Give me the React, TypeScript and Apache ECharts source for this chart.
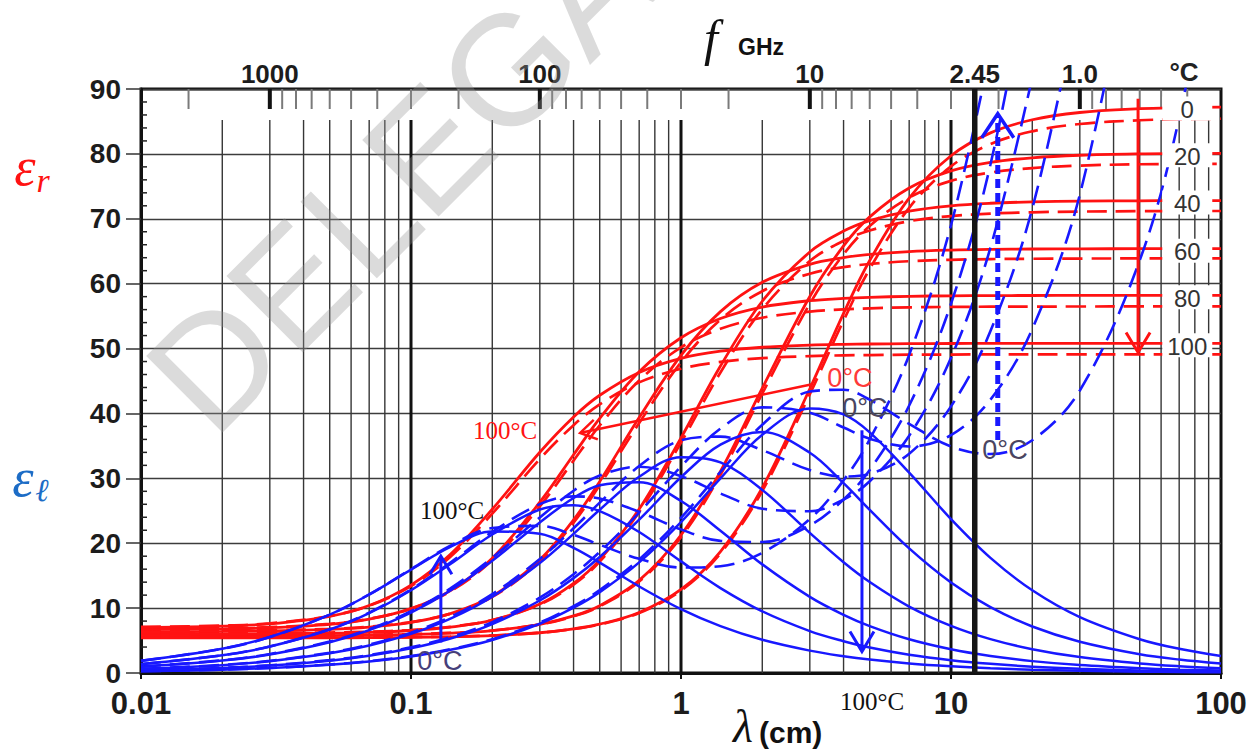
import React, { useEffect, useRef } from 'react';
import * as echarts from 'echarts';

// ---------- data ----------
// wavelength samples, cm
const wavelengths = [0.01, 0.02, 0.03, 0.05, 0.07, 0.1, 0.14, 0.2, 0.3, 0.4, 0.5, 0.7, 1, 1.4, 2, 3, 4, 5, 7, 10, 14, 20, 30, 50, 70, 100];
const temperatures = ['0', '20', '40', '60', '80', '100'];

// relative permittivity, pure water (solid red)
const erSolid0 = [5.4, 5.4, 5.41, 5.42, 5.44, 5.48, 5.58, 5.76, 6.2, 6.8, 7.52, 9.33, 12.87, 18.72, 28.55, 43.81, 55.42, 63.56, 73.18, 79.71, 83.24, 85.26, 86.38, 86.97, 87.13, 87.22];
const erSolid20 = [5.7, 5.71, 5.72, 5.76, 5.82, 5.93, 6.13, 6.54, 7.5, 8.8, 10.38, 14.28, 21.27, 31.07, 43.89, 58.03, 65.83, 70.29, 74.75, 77.38, 78.69, 79.4, 79.79, 80.0, 80.04, 80.07];
const erSolid40 = [6.0, 6.02, 6.05, 6.14, 6.27, 6.55, 7.07, 8.14, 10.63, 13.8, 17.44, 25.26, 36.23, 47.3, 57.29, 64.89, 68.1, 69.72, 71.19, 72.0, 72.39, 72.6, 72.71, 72.77, 72.79, 72.8];
const erSolid60 = [6.35, 6.41, 6.49, 6.72, 7.08, 7.8, 9.15, 11.83, 17.45, 23.6, 29.53, 39.37, 48.96, 55.69, 60.21, 62.98, 64.01, 64.5, 64.94, 65.17, 65.28, 65.34, 65.37, 65.39, 65.4, 65.4];
const erSolid80 = [6.7, 6.8, 6.97, 7.5, 8.3, 9.92, 12.7, 17.7, 26.32, 33.63, 39.23, 46.41, 51.66, 54.64, 56.4, 57.38, 57.73, 57.9, 58.05, 58.13, 58.16, 58.18, 58.19, 58.2, 58.2, 58.2];
const erSolid100 = [7.0, 7.22, 7.58, 8.74, 10.4, 13.55, 18.3, 25.24, 34.02, 39.46, 42.8, 46.32, 48.49, 49.59, 50.2, 50.53, 50.65, 50.7, 50.75, 50.78, 50.8, 50.8, 50.8, 50.8, 50.8, 50.8];

// relative permittivity, saline water (dashed red)
const erDashed0 = [5.45, 5.45, 5.46, 5.47, 5.49, 5.53, 5.62, 5.78, 6.2, 6.78, 7.48, 9.25, 12.71, 18.43, 28.05, 42.97, 54.32, 62.28, 71.69, 78.08, 81.52, 83.48, 84.61, 85.18, 85.34, 85.42];
const erDashed20 = [5.8, 5.81, 5.82, 5.85, 5.9, 6.0, 6.17, 6.55, 7.48, 8.74, 10.28, 14.1, 20.94, 30.53, 43.07, 56.91, 64.54, 68.9, 73.27, 75.84, 77.12, 77.82, 78.2, 78.4, 78.44, 78.47];
const erDashed40 = [6.1, 6.12, 6.15, 6.24, 6.36, 6.63, 7.12, 8.15, 10.55, 13.61, 17.17, 24.8, 35.5, 46.31, 56.06, 63.48, 66.61, 68.19, 69.63, 70.42, 70.8, 71.0, 71.11, 71.17, 71.19, 71.2];
const erDashed60 = [6.45, 6.51, 6.59, 6.8, 7.15, 7.85, 9.15, 11.72, 17.18, 23.16, 28.94, 38.53, 47.88, 54.44, 58.84, 61.54, 62.55, 63.03, 63.46, 63.68, 63.79, 63.84, 63.87, 63.89, 63.9, 63.9];
const erDashed80 = [6.8, 6.9, 7.06, 7.58, 8.35, 9.92, 12.6, 17.4, 25.68, 32.73, 38.15, 45.09, 50.17, 53.05, 54.75, 55.7, 56.04, 56.2, 56.35, 56.42, 56.45, 56.47, 56.48, 56.49, 56.49, 56.49];
const erDashed100 = [7.1, 7.31, 7.66, 8.78, 10.36, 13.38, 17.92, 24.56, 32.98, 38.19, 41.41, 44.79, 46.88, 47.94, 48.52, 48.84, 48.95, 49.0, 49.05, 49.08, 49.1, 49.1, 49.1, 49.1, 49.1, 49.1];

// loss factor, pure water (solid blue)
const elSolid0 = [0.26, 0.51, 0.77, 1.28, 1.79, 2.55, 3.57, 5.09, 7.59, 10.06, 12.46, 17.05, 23.26, 30.0, 36.72, 40.76, 39.85, 37.09, 30.88, 23.72, 17.75, 12.75, 8.62, 5.21, 3.73, 2.61];
const elSolid20 = [0.38, 0.76, 1.14, 1.9, 2.66, 3.8, 5.31, 7.54, 11.17, 14.62, 17.88, 23.63, 30.17, 35.2, 37.14, 33.95, 29.26, 25.15, 19.21, 13.96, 10.15, 7.17, 4.82, 2.89, 2.07, 1.45];
const elSolid40 = [0.61, 1.21, 1.82, 3.03, 4.23, 6.02, 8.37, 11.76, 16.96, 21.45, 25.16, 30.25, 33.25, 32.45, 28.21, 21.59, 17.08, 14.02, 10.24, 7.26, 5.22, 3.67, 2.45, 1.47, 1.05, 0.74];
const elSolid60 = [0.96, 1.91, 2.86, 4.74, 6.6, 9.31, 12.72, 17.3, 23.21, 26.97, 28.93, 29.38, 26.51, 21.92, 16.74, 11.73, 8.96, 7.23, 5.2, 3.66, 2.62, 1.83, 1.22, 0.73, 0.52, 0.37];
const elSolid80 = [1.36, 2.72, 4.07, 6.7, 9.23, 12.75, 16.8, 21.35, 25.2, 25.87, 24.95, 21.72, 17.2, 13.09, 9.5, 6.46, 4.9, 3.92, 2.81, 1.97, 1.41, 0.98, 0.66, 0.39, 0.28, 0.2];
const elSolid100 = [1.88, 3.74, 5.55, 9.0, 12.09, 15.93, 19.44, 21.82, 21.46, 19.3, 17.02, 13.34, 9.84, 7.22, 5.12, 3.45, 2.59, 2.07, 1.48, 1.04, 0.74, 0.52, 0.35, 0.21, 0.15, 0.1];

// loss factor, saline water (dashed blue)
const elDashed0 = [0.26, 0.52, 0.78, 1.31, 1.83, 2.61, 3.66, 5.21, 7.77, 10.31, 12.77, 17.49, 23.92, 30.98, 38.25, 43.37, 43.65, 42.12, 38.39, 34.9, 33.74, 35.87, 43.53, 63.6, 85.55, 119.6];
const elDashed20 = [0.4, 0.79, 1.19, 1.98, 2.77, 3.95, 5.52, 7.84, 11.62, 15.23, 18.65, 24.73, 31.82, 37.66, 40.94, 40.12, 37.83, 36.11, 34.9, 36.66, 42.13, 53.02, 73.72, 117.8];
const elDashed40 = [0.63, 1.25, 1.88, 3.13, 4.37, 6.22, 8.65, 12.16, 17.57, 22.3, 26.26, 31.9, 35.85, 36.43, 34.33, 31.27, 30.27, 30.68, 33.79, 41.09, 52.69, 71.58, 104.4];
const elDashed60 = [0.98, 1.95, 2.92, 4.85, 6.75, 9.52, 13.03, 17.76, 23.97, 28.09, 30.45, 31.79, 30.34, 27.67, 25.32, 24.93, 26.73, 29.55, 36.57, 48.57, 65.55, 91.78];
const elDashed80 = [1.37, 2.74, 4.1, 6.75, 9.31, 12.88, 17.02, 21.74, 26.02, 27.22, 26.88, 24.85, 22.13, 20.36, 20.19, 22.75, 26.74, 31.29, 41.22, 56.9, 78.36, 110.95];
const elDashed100 = [1.87, 3.73, 5.54, 8.99, 12.1, 16.0, 19.64, 22.34, 22.67, 21.28, 19.76, 17.59, 16.26, 16.46, 18.52, 23.72, 29.69, 35.99, 49.02, 69.0, 95.9];

// static permittivity plateaus (for the temperature labels at the right)
const plateauValues = [87.3, 80.1, 72.8, 65.4, 58.2, 50.8];
const plateauLabelWavelength = 75;

// grid / ticks
const minorGridX = [0.02, 0.03, 0.04, 0.05, 0.06, 0.07, 0.08, 0.09, 0.2, 0.3, 0.4, 0.5, 0.6, 0.7, 0.8, 0.9, 2, 3, 4, 5, 6, 7, 8, 9, 20, 30, 40, 50, 60, 70, 80, 90];
const decadeGridX = [0.1, 1, 10];
const microwaveFreq = [2.45]; // GHz
const freqMinorTicks = [2000, 900, 800, 700, 600, 500, 400, 300, 200, 90, 80, 70, 60, 50, 40, 30, 20, 9, 8, 7, 6, 5, 4, 3, 2, 0.9, 0.8, 0.7, 0.6, 0.5, 0.4];
const freqMajorTicks = [1000, 100, 10, 1];
const freqLabelValues = [1000, 100, 10, 2.45, 1];
const freqLabelTexts = ['1000', '100', '10', '2.45', '1.0'];
const yMinorTicks = [2, 4, 6, 8, 12, 14, 16, 18, 22, 24, 26, 28, 32, 34, 36, 38, 42, 44, 46, 48, 52, 54, 56, 58, 62, 64, 66, 68, 72, 74, 76, 78, 82, 84, 86, 88];
const LIGHT_SPEED_CM_GHZ = 30; // λ(cm) = 30 / f(GHz)

// annotations (data coordinates: [λ cm, value])
const arrowTails = [[49.3, 88.5], [14.9, 35.9], [0.129, 4.7], [4.68, 37.4], [3.06, 44.5]];
const arrowTips = [[49.3, 49.4], [14.9, 86.2], [0.129, 18.0], [4.68, 3.3], [0.423, 37.0]];
const annotationTexts = ['100°C', '100°C', '100°C', '0°C', '0°C', '0°C', '0°C'];
const annotationPositions = [[0.223, 37.3], [0.142, 25.0], [5.1, -4.4], [4.22, 45.4], [4.8, 40.9], [15.85, 34.4], [0.128, 1.8]];

// ---------- styles ----------
const RED = '#ff1212';
const BLUE = '#1818ff';
const SANS = '"Liberation Sans", Arial, sans-serif';
const SERIF = '"Liberation Serif", "DejaVu Serif", serif';

const arrowStyles = [
  { color: RED, width: 3, dash: null, headLen: 20, headHalf: 12 },
  { color: BLUE, width: 5, dash: [9, 5], headLen: 24, headHalf: 16 },
  { color: BLUE, width: 3, dash: null, headLen: 18, headHalf: 11 },
  { color: BLUE, width: 3, dash: null, headLen: 20, headHalf: 12 },
  { color: RED, width: 2.5, dash: null, headLen: 16, headHalf: 10 },
];
const annotationStyles = [
  { fill: RED, font: `25px ${SERIF}` },
  { fill: '#111', font: `25px ${SERIF}` },
  { fill: '#111', font: `25px ${SERIF}` },
  { fill: '#ff3a3a', font: `27px ${SANS}` },
  { fill: '#4a4560', font: `27px ${SANS}` },
  { fill: '#4a4560', font: `27px ${SANS}` },
  { fill: '#473f7a', font: `27px ${SANS}` },
];

function toPairs(arr: number[]) {
  return arr.map((v, i) => [wavelengths[i], v]);
}

function vLines(values: number[], topOffset: number, color: string, width: number, z: number) {
  return {
    type: 'custom',
    coordinateSystem: 'cartesian2d',
    silent: true,
    z,
    clip: false,
    data: values.map((v) => [v, 45]),
    renderItem: (params: any, api: any) => {
      const cs = params.coordSys;
      const x = api.coord([api.value(0), 45])[0];
      return {
        type: 'line',
        shape: { x1: x, y1: cs.y + topOffset, x2: x, y2: cs.y + cs.height },
        style: { stroke: color, lineWidth: width },
      };
    },
  };
}

function topTicks(freqs: number[], color: string, width: number) {
  return {
    type: 'custom',
    coordinateSystem: 'cartesian2d',
    silent: true,
    z: 2,
    clip: false,
    data: freqs.map((f) => [LIGHT_SPEED_CM_GHZ / f, 45]),
    renderItem: (params: any, api: any) => {
      const cs = params.coordSys;
      const x = api.coord([api.value(0), 45])[0];
      return {
        type: 'line',
        shape: { x1: x, y1: cs.y, x2: x, y2: cs.y + 20 },
        style: { stroke: color, lineWidth: width },
      };
    },
  };
}

function lineSeries(name: string, arr: number[], color: string, width: number, dashed: boolean, z: number) {
  return {
    name,
    type: 'line',
    data: toPairs(arr),
    smooth: 0.35,
    symbol: 'none',
    showSymbol: false,
    silent: true,
    clip: true,
    z,
    lineStyle: { color, width, type: dashed ? [20, 9] : 'solid' },
  };
}

export default function App() {
  const ref = useRef<HTMLDivElement>(null);

  useEffect(() => {
    const chart = echarts.init(ref.current as HTMLDivElement, null, { renderer: 'svg' });

    const erSolid = [erSolid0, erSolid20, erSolid40, erSolid60, erSolid80, erSolid100];
    const erDashed = [erDashed0, erDashed20, erDashed40, erDashed60, erDashed80, erDashed100];
    const elSolid = [elSolid0, elSolid20, elSolid40, elSolid60, elSolid80, elSolid100];
    const elDashed = [elDashed0, elDashed20, elDashed40, elDashed60, elDashed80, elDashed100];

    const series: any[] = [];
    // grid lines
    series.push(vLines(minorGridX, 31, '#363636', 1.4, 1));
    series.push(vLines(decadeGridX, 31, '#111', 3, 1));
    series.push(vLines(microwaveFreq.map((f) => LIGHT_SPEED_CM_GHZ / f), 0, '#151515', 5.5, 4));
    series.push(topTicks(freqMinorTicks, '#7a7a7a', 2));
    series.push(topTicks(freqMajorTicks, '#111', 4));
    // y minor ticks (inside)
    series.push({
      type: 'custom',
      coordinateSystem: 'cartesian2d',
      silent: true,
      z: 2,
      clip: false,
      data: yMinorTicks.map((v) => [0.01, v]),
      renderItem: (params: any, api: any) => {
        const cs = params.coordSys;
        const y = api.coord([0.01, api.value(1)])[1];
        return { type: 'line', shape: { x1: cs.x, y1: y, x2: cs.x + 6, y2: y }, style: { stroke: '#222', lineWidth: 1.5 } };
      },
    });
    // top frequency labels
    series.push({
      type: 'custom',
      coordinateSystem: 'cartesian2d',
      silent: true,
      z: 2,
      clip: false,
      data: freqLabelValues.map((f) => [LIGHT_SPEED_CM_GHZ / f, 45]),
      renderItem: (params: any, api: any) => {
        const cs = params.coordSys;
        const x = api.coord([api.value(0), 45])[0];
        return {
          type: 'text',
          x,
          y: cs.y - 15,
          style: {
            text: freqLabelTexts[params.dataIndex],
            fill: '#1c1c1c',
            font: `bold 26px ${SANS}`,
            align: 'center',
            textAlign: 'center',
            verticalAlign: 'middle',
            textVerticalAlign: 'middle',
          },
        };
      },
    });

    temperatures.forEach((t, i) => {
      series.push(lineSeries(`εr ${t}°C`, erSolid[i], RED, 2.8, false, 3));
      series.push(lineSeries(`εr saline ${t}°C`, erDashed[i], RED, 2.7, true, 3));
    });
    temperatures.forEach((t, i) => {
      series.push(lineSeries(`εl ${t}°C`, elSolid[i], BLUE, 2.5, false, 3));
      series.push(lineSeries(`εl saline ${t}°C`, elDashed[i], BLUE, 2.6, true, 3));
    });

    // temperature labels at the right
    series.push({
      type: 'custom',
      coordinateSystem: 'cartesian2d',
      silent: true,
      z: 6,
      clip: false,
      data: plateauValues.map((v) => [plateauLabelWavelength, v]),
      renderItem: (params: any, api: any) => {
        const p = api.coord([api.value(0), api.value(1)]);
        return {
          type: 'group',
          children: [
            { type: 'rect', shape: { x: p[0] - 25, y: p[1] - 10, width: 50, height: 24 }, style: { fill: '#ffffff' } },
            {
              type: 'text',
              x: p[0],
              y: p[1] + 3,
              style: {
                text: temperatures[params.dataIndex],
                fill: '#333',
                font: `24px ${SANS}`,
                align: 'center',
                textAlign: 'center',
                verticalAlign: 'middle',
                textVerticalAlign: 'middle',
              },
            },
          ],
        };
      },
    });

    // arrows
    series.push({
      type: 'custom',
      coordinateSystem: 'cartesian2d',
      silent: true,
      z: 7,
      clip: false,
      data: arrowTails.map((a) => [a[0], a[1]]),
      renderItem: (params: any, api: any) => {
        const i = params.dataIndex;
        const st = arrowStyles[i];
        const p1 = api.coord(arrowTails[i]);
        const p2 = api.coord(arrowTips[i]);
        const dx = p2[0] - p1[0];
        const dy = p2[1] - p1[1];
        const len = Math.sqrt(dx * dx + dy * dy);
        const ux = dx / len;
        const uy = dy / len;
        const nx = -uy;
        const ny = ux;
        const bx = p2[0] - st.headLen * ux;
        const by = p2[1] - st.headLen * uy;
        return {
          type: 'group',
          children: [
            {
              type: 'line',
              shape: { x1: p1[0], y1: p1[1], x2: p2[0] - ux * 2, y2: p2[1] - uy * 2 },
              style: { stroke: st.color, lineWidth: st.width, lineDash: st.dash || undefined },
            },
            {
              type: 'polyline',
              shape: {
                points: [
                  [bx + st.headHalf * nx, by + st.headHalf * ny],
                  [p2[0], p2[1]],
                  [bx - st.headHalf * nx, by - st.headHalf * ny],
                ],
              },
              style: { stroke: st.color, lineWidth: Math.min(st.width, 3.5), fill: 'none' },
            },
          ],
        };
      },
    });

    // text annotations
    series.push({
      type: 'custom',
      coordinateSystem: 'cartesian2d',
      silent: true,
      z: 8,
      clip: false,
      data: annotationPositions.map((a) => [a[0], a[1]]),
      renderItem: (params: any, api: any) => {
        const i = params.dataIndex;
        const p = api.coord(annotationPositions[i]);
        return {
          type: 'text',
          x: p[0],
          y: p[1],
          style: {
            text: annotationTexts[i],
            fill: annotationStyles[i].fill,
            font: annotationStyles[i].font,
            align: 'center',
            textAlign: 'center',
            verticalAlign: 'middle',
            textVerticalAlign: 'middle',
          },
        };
      },
    });

    const txt = (text: string, x: number, y: number, font: string, fill: string, align = 'center') => ({
      type: 'text',
      x,
      y,
      silent: true,
      z: 20,
      style: { text, font, fill, align, textAlign: align, verticalAlign: 'middle', textVerticalAlign: 'middle' },
    });

    const option: any = {
      animation: false,
      backgroundColor: '#ffffff',
      grid: { left: 141, right: 37, top: 89, bottom: 80, show: true, borderColor: '#111', borderWidth: 3, backgroundColor: 'transparent' },
      xAxis: {
        type: 'log',
        logBase: 10,
        min: 0.01,
        max: 100,
        axisLine: { show: true, onZero: false, lineStyle: { color: '#111', width: 3 } },
        axisTick: { show: true, length: 6, lineStyle: { color: '#111', width: 2 } },
        minorTick: { show: false },
        splitLine: { show: false },
        axisLabel: {
          margin: 15,
          fontSize: 31,
          fontWeight: 'bold',
          fontFamily: SANS,
          color: '#1c1c1c',
          formatter: (v: number) => String(+Number(v).toPrecision(3)),
        },
      },
      yAxis: {
        type: 'value',
        min: 0,
        max: 90,
        interval: 10,
        axisLine: { show: true, lineStyle: { color: '#111', width: 3 } },
        axisTick: { show: true, length: 15, lineStyle: { color: '#333', width: 1.5 } },
        splitLine: { show: true, lineStyle: { color: '#3c3c3c', width: 1.4 } },
        axisLabel: { margin: 20, fontSize: 28, fontWeight: 'bold', fontFamily: SANS, color: '#1c1c1c' },
      },
      graphic: [
        txt('f', 711, 38, `italic 50px ${SERIF}`, '#111'),
        txt('GHz', 738, 47, `bold 23px ${SANS}`, '#111', 'left'),
        txt('λ', 743, 726, `italic 46px ${SERIF}`, '#111'),
        txt('(cm)', 759, 732, `bold 30px ${SANS}`, '#111', 'left'),
        txt('ε', 25, 167, `italic 54px ${SERIF}`, RED),
        txt('r', 43, 180, `italic 34px ${SERIF}`, RED),
        txt('ε', 23, 478, `italic 54px ${SERIF}`, '#1c6cc6'),
        txt('ℓ', 42, 490, `italic 32px ${SERIF}`, '#1c6cc6'),
        txt('°C', 1184, 72, `bold 26px ${SANS}`, '#222'),
        {
          type: 'text',
          x: 175,
          y: 403,
          rotation: Math.PI / 4,
          silent: true,
          z: 100,
          style: {
            text: 'DELEGATE',
            font: `157px ${SANS}`,
            fill: 'rgba(150,150,150,0.34)',
            align: 'left',
            textAlign: 'left',
            verticalAlign: 'middle',
            textVerticalAlign: 'middle',
          },
        },
      ],
      series,
    };

    chart.setOption(option);
    return () => chart.dispose();
  }, []);

  return <div ref={ref} style={{ position: 'absolute', left: 0, top: 0, width: 1258, height: 753 }} />;
}
